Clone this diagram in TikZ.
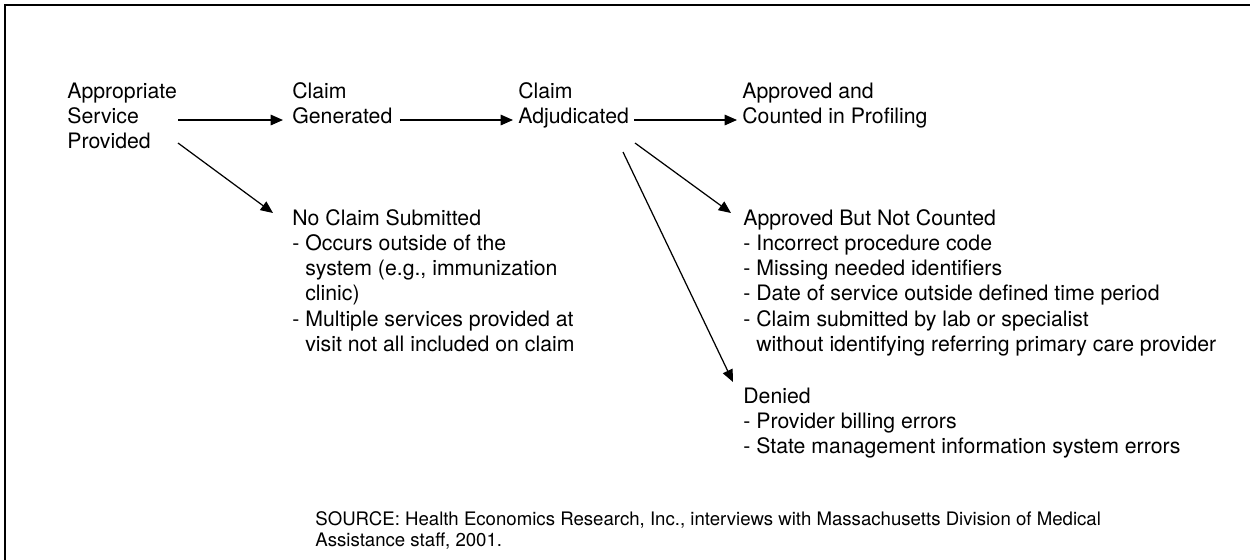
\documentclass[tikz,border=0pt]{standalone}
\usepackage{fontspec}
\setmainfont{TeX Gyre Heros}
\usetikzlibrary{arrows.meta,calc}
\begin{document}
\begin{tikzpicture}[x=0.02cm,y=-0.02cm,
  block/.style={anchor=north west,inner sep=0pt,align=left,
    font=\fontsize{12.1}{14.4}\selectfont},
  note/.style={anchor=north west,inner sep=0pt,align=left,
    font=\fontsize{10.6}{10.4}\selectfont},
  flow/.style={line width=0.7pt,-{Triangle[length=7pt,width=6pt]}},
  frame/.style={line width=1.1pt}]
\useasboundingbox (0,0) rectangle (1250,559);
\begin{scope}
  \clip (0,0) rectangle (1250,559);
  \draw[frame] (5,5) rectangle (1300,620);
\end{scope}

% stages of the claim
\node[block] (asp) at (67,80) {\strut Appropriate\\Service\\Provided};
\node[block] (gen) at (292,80) {\strut Claim\\Generated};
\node[block] (adj) at (518,80) {\strut Claim\\Adjudicated};
\node[block] (apc) at (742,80) {\strut Approved and\\Counted in Profiling};

% outcomes with reasons
\newcommand{\hang}{\phantom{- }}
\node[block] (ncs) at (292,207) {\strut No Claim Submitted\\
- Occurs outside of the\\
\hang system (e.g., immunization\\
\hang clinic)\\
- Multiple services provided at\\
\hang visit not all included on claim};
\node[block] (abnc) at (743,207) {\strut Approved But Not Counted\\
- Incorrect procedure code\\
- Missing needed identifiers\\
- Date of service outside defined time period\\
- Claim submitted by lab or specialist\\
\hang without identifying referring primary care provider};
\node[block] (den) at (743,385) {\strut Denied\\
- Provider billing errors\\
- State management information system errors};

\node[note] (src) at (315,511) {\strut SOURCE: Health Economics Research, Inc., interviews with Massachusetts Division of Medical\\
Assistance staff, 2001.};

% connectors
\draw[flow] ($(asp.north west)+(111,40)$) -- ($(gen.north west)+(-9,40)$);
\draw[flow] ($(gen.north west)+(108,40)$) -- ($(adj.north west)+(-5,40)$);
\draw[flow] ($(adj.north west)+(116,40)$) -- ($(apc.north west)+(-5,40)$);
\draw[flow] ($(asp.north west)+(111,63)$) -- ($(ncs.north west)+(-19,6)$);
\draw[flow] ($(adj.north west)+(117,63)$) -- ($(abnc.north west)+(-12,6)$);
\draw[flow] ($(adj.north west)+(105,72)$) -- ($(den.north west)+(-10,-3)$);
\end{tikzpicture}
\end{document}
